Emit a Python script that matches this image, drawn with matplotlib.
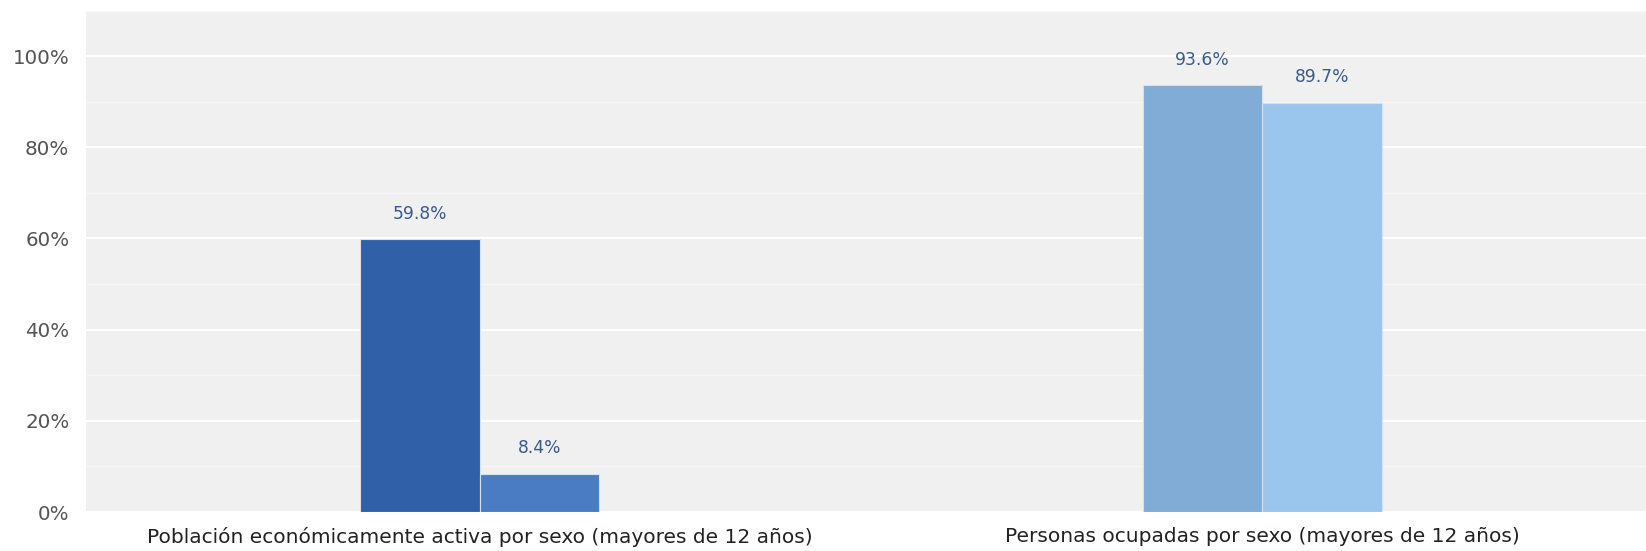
import matplotlib
matplotlib.use('Agg')
import matplotlib.pyplot as plt
from matplotlib.ticker import MultipleLocator, FuncFormatter

categories = ['Población económicamente activa por sexo (mayores de 12 años)',
              'Personas ocupadas por sexo (mayores de 12 años)']
left_values = [59.8, 93.6]
right_values = [8.4, 89.7]
left_colors = ['#3060A8', '#80ACD6']
right_colors = ['#4A7CC4', '#9AC6EE']

plt.rcParams['font.family'] = ['DejaVu Sans']

fig = plt.figure(figsize=(16.46, 5.51), dpi=100)
ax = fig.add_axes([86 / 1646, 1 - 512 / 551, 1 - 86 / 1646, 501.5 / 551])
ax.set_facecolor('#F0F0F0')

w = 0.153
x = list(range(len(categories)))
for i in x:
    b1 = ax.bar(i - w / 2, left_values[i], width=w, color=left_colors[i],
                edgecolor='#D6E0EE', linewidth=0.8, zorder=3)
    b2 = ax.bar(i + w / 2, right_values[i], width=w, color=right_colors[i],
                edgecolor='#D6E0EE', linewidth=0.8, zorder=3)
    for b, v in ((b1, left_values[i]), (b2, right_values[i])):
        ax.annotate('{:.1f}%'.format(v), (b[0].get_x() + w / 2, v),
                    xytext=(0, 12), textcoords='offset points',
                    ha='center', va='bottom', fontsize=12.3, color='#3A5A8A')

ax.set_xlim(-0.503, 1.49)
ax.set_ylim(0, 110)
ax.yaxis.set_major_locator(MultipleLocator(20))
ax.yaxis.set_minor_locator(MultipleLocator(10))
ax.yaxis.set_major_formatter(FuncFormatter(lambda v, p: '{:.0f}%'.format(v)))
ax.grid(axis='y', which='major', color='white', linewidth=1.5, zorder=0)
ax.grid(axis='y', which='minor', color='#F6F6F6', linewidth=1.0, zorder=0)
ax.set_axisbelow(True)
for s in ax.spines.values():
    s.set_visible(False)
ax.set_xticks(x)
ax.set_xticklabels(categories, fontsize=14.5, color='#222222')
ax.tick_params(axis='both', which='both', length=0)
ax.tick_params(axis='x', pad=11)
ax.tick_params(axis='y', labelsize=14.3, labelcolor='#555555', pad=12)

fig.savefig('out.png', dpi=100)
